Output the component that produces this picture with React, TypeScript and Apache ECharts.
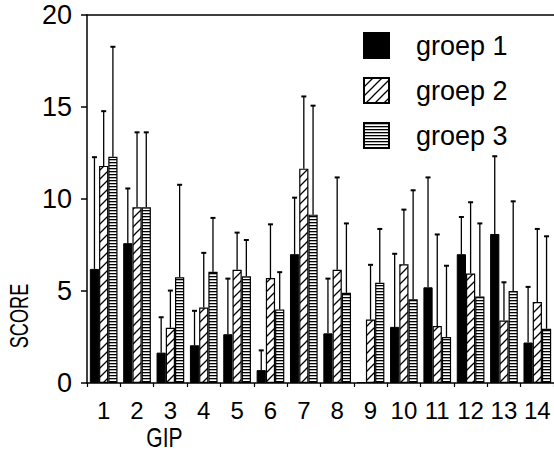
import React, { useEffect, useRef } from 'react';
import * as echarts from 'echarts';

const categories = ['1', '2', '3', '4', '5', '6', '7', '8', '9', '10', '11', '12', '13', '14'];
const groupNames = ['groep 1', 'groep 2', 'groep 3'];

const group1 = [6.2, 7.6, 1.65, 2.05, 2.65, 0.7, 7.0, 2.7, 0.05, 3.05, 5.2, 7.0, 8.1, 2.2];
const group1Err = [12.3, 10.6, 3.6, 3.95, 5.7, 1.8, 10.1, 5.7, null, 7.05, 11.2, 9.05, 12.35, 5.25];

const group2 = [11.8, 9.55, 3.0, 4.1, 6.15, 5.7, 11.65, 6.15, 3.45, 6.45, 3.1, 5.95, 3.4, 4.4];
const group2Err = [14.8, 13.65, 5.05, 7.1, 8.2, 8.65, 15.6, 11.2, 6.45, 9.45, 8.1, 9.85, 5.5, 8.4];

const group3 = [12.3, 9.55, 5.75, 6.05, 5.8, 4.0, 9.15, 4.9, 5.45, 4.55, 2.5, 4.7, 5.0, 2.95];
const group3Err = [18.3, 13.65, 10.8, 9.0, 7.8, 6.05, 15.1, 8.7, 8.4, 10.5, 6.4, 8.7, 9.9, 8.0];

const yMin = 0;
const yMax = 20;
const yInterval = 5;

const FONT = 'Liberation Sans';
const CAT_GAP = 0.17;

function makeHatch(): HTMLCanvasElement {
  const c = document.createElement('canvas');
  c.width = 9;
  c.height = 9;
  const ctx = c.getContext('2d')!;
  ctx.fillStyle = '#fff';
  ctx.fillRect(0, 0, 9, 9);
  ctx.strokeStyle = '#000';
  ctx.lineWidth = 1.3;
  ctx.beginPath();
  ctx.moveTo(-2, 11);
  ctx.lineTo(11, -2);
  ctx.moveTo(-2, 2);
  ctx.lineTo(2, -2);
  ctx.moveTo(7, 11);
  ctx.lineTo(11, 7);
  ctx.stroke();
  return c;
}

function makeStripes(): HTMLCanvasElement {
  const c = document.createElement('canvas');
  c.width = 6;
  c.height = 3;
  const ctx = c.getContext('2d')!;
  ctx.fillStyle = '#fff';
  ctx.fillRect(0, 0, 6, 3);
  ctx.fillStyle = '#000';
  ctx.fillRect(0, 0, 6, 1.3);
  return c;
}

function errorSeries(groupIndex: number, values: number[], errs: (number | null)[]) {
  const data: number[][] = [];
  errs.forEach((e, i) => {
    if (e !== null && e !== undefined) data.push([i, e, values[i]]);
  });
  return {
    type: 'custom',
    silent: true,
    z: 5,
    data,
    encode: { x: 0, y: 1 },
    renderItem: (params: any, api: any) => {
      const i = api.value(0);
      const top = api.value(1);
      const base = api.value(2);
      const band = api.size([1, 0])[0];
      const total = band * (1 - CAT_GAP);
      const barW = total / 3;
      const center = api.coord([i, 0])[0];
      const cx = center - total / 2 + barW * (groupIndex + 0.5);
      const yTop = api.coord([i, top])[1];
      const yBase = api.coord([i, base])[1];
      return {
        type: 'group',
        children: [
          {
            type: 'line',
            shape: { x1: cx, y1: yBase, x2: cx, y2: yTop },
            style: { stroke: '#000', lineWidth: 1.3 },
          },
          {
            type: 'line',
            shape: { x1: cx - 2.5, y1: yTop + 0.5, x2: cx + 2.5, y2: yTop + 0.5 },
            style: { stroke: '#000', lineWidth: 2 },
          },
        ],
      };
    },
  };
}

export default function App() {
  const ref = useRef<HTMLDivElement>(null);

  useEffect(() => {
    if (!ref.current) return;
    const chart = echarts.init(ref.current, undefined, { renderer: 'svg' });
    const hatch = makeHatch();
    const stripes = makeStripes();

    const option: any = {
      animation: false,
      backgroundColor: '#fff',
      grid: { left: 87, right: 0, top: 15, bottom: 74, containLabel: false },
      legend: {
        orient: 'vertical',
        left: 358,
        top: 27,
        itemWidth: 25,
        itemHeight: 25,
        itemGap: 18,
        icon: 'rect',
        selectedMode: false,
        data: groupNames,
        textStyle: {
          fontSize: 27,
          color: '#000',
          fontFamily: FONT,
          padding: [0, 0, 0, 22],
        },
      },
      xAxis: [
        {
          type: 'category',
          data: categories,
          position: 'bottom',
          axisLine: { show: true, lineStyle: { color: '#000', width: 1.5 } },
          axisTick: { show: true, length: 4, lineStyle: { color: '#000', width: 1.2 } },
          axisLabel: { interval: 0, fontSize: 24, color: '#000', fontFamily: FONT, margin: 15 },
          splitLine: { show: false },
        },
        {
          type: 'category',
          data: categories,
          position: 'top',
          axisLine: { show: true, lineStyle: { color: '#000', width: 1.5 } },
          axisTick: { show: false },
          axisLabel: { show: false },
          splitLine: { show: false },
        },
      ],
      yAxis: {
        type: 'value',
        min: yMin,
        max: yMax,
        interval: yInterval,
        axisLine: { show: true, lineStyle: { color: '#000', width: 1.5 } },
        axisTick: { show: true, length: 6, lineStyle: { color: '#000', width: 1.5 } },
        axisLabel: { fontSize: 27, color: '#000', fontFamily: FONT, margin: 15 },
        splitLine: { show: false },
      },
      graphic: [
        {
          type: 'text',
          x: 19,
          y: 316,
          rotation: Math.PI / 2,
          scaleX: 0.7,
          style: {
            text: 'SCORE',
            fontSize: 26,
            fontFamily: FONT,
            fill: '#000',
            align: 'center',
            verticalAlign: 'middle',
            textAlign: 'center',
            textVerticalAlign: 'middle',
          },
        },
        {
          type: 'text',
          x: 164.5,
          y: 438,
          scaleX: 0.78,
          style: {
            text: 'GIP',
            fontSize: 27,
            fontFamily: FONT,
            fill: '#000',
            align: 'center',
            verticalAlign: 'middle',
            textAlign: 'center',
            textVerticalAlign: 'middle',
          },
        },
      ],
      series: [
        {
          type: 'bar',
          name: groupNames[0],
          data: group1,
          barGap: '0%',
          barCategoryGap: CAT_GAP * 100 + '%',
          itemStyle: { color: '#000', borderColor: '#000', borderWidth: 1 },
        },
        {
          type: 'bar',
          name: groupNames[1],
          data: group2,
          barGap: '0%',
          barCategoryGap: CAT_GAP * 100 + '%',
          itemStyle: {
            color: { image: hatch, repeat: 'repeat', imageWidth: 9, imageHeight: 9 },
            borderColor: '#000',
            borderWidth: 1.2,
          },
        },
        {
          type: 'bar',
          name: groupNames[2],
          data: group3,
          barGap: '0%',
          barCategoryGap: CAT_GAP * 100 + '%',
          itemStyle: {
            color: { image: stripes, repeat: 'repeat', imageWidth: 6, imageHeight: 3 },
            borderColor: '#000',
            borderWidth: 1.2,
          },
        },
        errorSeries(0, group1, group1Err),
        errorSeries(1, group2, group2Err),
        errorSeries(2, group3, group3Err),
      ],
    };

    chart.setOption(option);
    return () => {
      chart.dispose();
    };
  }, []);

  return (
    <div
      ref={ref}
      style={{ position: 'fixed', left: 0, top: 0, width: 554, height: 457, background: '#fff' }}
    />
  );
}
